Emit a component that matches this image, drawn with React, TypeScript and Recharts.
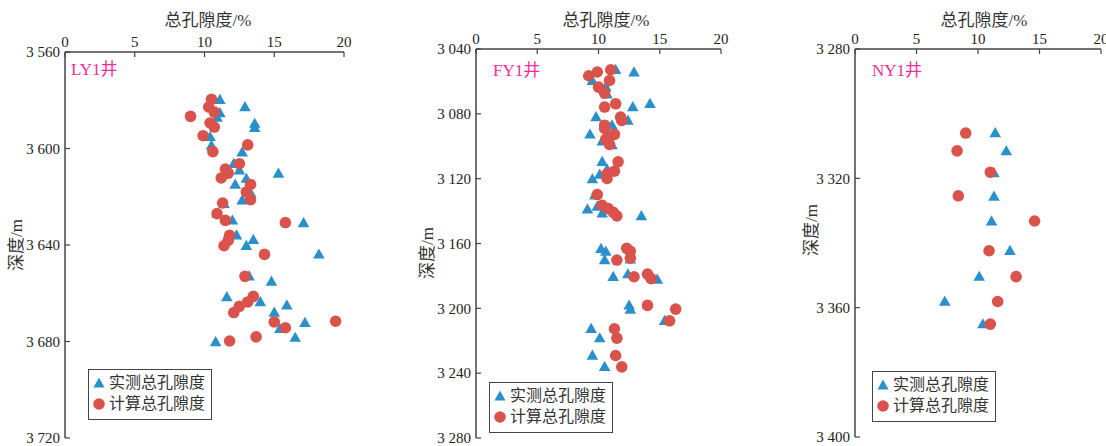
import { ScatterChart, Scatter, XAxis, YAxis } from "recharts";

const FONT = "'Liberation Serif', 'Times New Roman', 'Noto Sans CJK SC', serif";
const BLUE = "#2b8fcb";
const RED = "#d9534c";
const PINK = "#ee2e9b";
const AXIS = "#444";

const X_TICKS = [0, 5, 10, 15, 20];

// LY1 well
const LY_MEAS_POR = [11.1, 12.9, 11.1, 10.9, 13.6, 13.6, 10.4, 10.5, 12.7, 12.1, 12.5, 15.3, 13.0, 12.2, 13.3, 12.7, 11.4, 10.9, 12.0, 17.1, 12.3, 13.5, 13.0, 18.2, 13.2, 14.8, 11.6, 14.0, 15.9, 15.0, 17.2, 15.4, 16.5, 10.8];
const LY_MEAS_DEPTH = [3579.8, 3582.8, 3585.3, 3587.2, 3589.7, 3591.4, 3595.2, 3598.8, 3601.6, 3606.3, 3609, 3610.4, 3612.5, 3614.9, 3618.4, 3621.5, 3622.9, 3627, 3629.8, 3630.9, 3636, 3637.8, 3640.3, 3643.9, 3653, 3655.1, 3661.6, 3663.6, 3665, 3668, 3672.2, 3674.7, 3678.4, 3680.2];
const LY_CALC_POR = [10.5, 10.3, 10.7, 9.0, 10.4, 10.7, 9.9, 13.1, 10.6, 12.5, 11.5, 11.7, 11.2, 13.3, 13.0, 13.3, 11.3, 10.9, 11.5, 15.8, 11.8, 11.7, 11.4, 14.3, 12.9, 13.5, 13.1, 12.5, 12.1, 15.0, 15.8, 19.4, 13.7, 11.8];
const LY_CALC_DEPTH = [3579.6, 3582.8, 3584.9, 3586.7, 3589.4, 3591.1, 3594.7, 3598.5, 3601.3, 3606.3, 3608.5, 3610.2, 3612.2, 3614.9, 3618, 3621.2, 3622.6, 3627, 3629.8, 3630.7, 3636, 3638.1, 3640.3, 3643.9, 3653, 3661.3, 3663.6, 3665.4, 3668, 3671.9, 3674.3, 3671.6, 3678.1, 3679.8];
const LY_Y_TICKS = [3560, 3600, 3640, 3680, 3720];

// FY1 well
const FY_MEAS_POR = [11.4, 12.9, 9.5, 10.6, 10.7, 14.2, 12.8, 9.8, 12.4, 11.1, 9.3, 10.3, 11.1, 10.3, 10.7, 10.1, 9.5, 9.7, 9.9, 9.1, 10.3, 13.5, 10.2, 10.6, 10.5, 12.6, 11.2, 12.4, 14.8, 12.5, 12.6, 15.4, 9.4, 10.1, 9.5, 10.5];
const FY_MEAS_DEPTH = [3052.8, 3054.4, 3059.6, 3063.5, 3068, 3073.8, 3075.8, 3082, 3084.1, 3087, 3092.7, 3096.9, 3099.3, 3109.6, 3114.2, 3117.5, 3120.3, 3130.2, 3137.2, 3138.9, 3141.4, 3143, 3163.2, 3165, 3170.2, 3169.8, 3180.5, 3178.9, 3182.2, 3198.2, 3200.7, 3207.7, 3212.6, 3218.4, 3229.1, 3236.1];
const FY_CALC_POR = [11.0, 9.9, 9.2, 10.9, 10.0, 10.5, 11.4, 10.5, 11.8, 11.9, 10.5, 10.5, 11.3, 10.6, 10.8, 10.9, 11.6, 11.3, 10.7, 10.7, 9.9, 10.3, 10.8, 11.2, 11.5, 12.3, 12.6, 12.6, 11.5, 14.0, 12.9, 14.3, 14.0, 16.3, 15.8, 11.3, 11.5, 11.4, 11.9];
const FY_CALC_DEPTH = [3052.8, 3054.2, 3056.5, 3059.4, 3063.5, 3067.2, 3073.8, 3075.8, 3082, 3084.1, 3087, 3089, 3092.7, 3095.6, 3094.8, 3098.9, 3109.6, 3115.4, 3117, 3119.9, 3129.8, 3136.4, 3138.5, 3140.7, 3143, 3163, 3164.8, 3169, 3170.2, 3178.9, 3180.5, 3181.7, 3198.2, 3200.5, 3207.7, 3212.6, 3218.4, 3229.1, 3236.1];
const FY_Y_TICKS = [3040, 3080, 3120, 3160, 3200, 3240, 3280];

// NY1 well
const NY_MEAS_POR = [11.4, 12.3, 11.3, 11.3, 11.1, 12.6, 10.1, 7.3, 10.4];
const NY_MEAS_DEPTH = [3306, 3311.6, 3318.4, 3325.6, 3333.3, 3342.4, 3350.4, 3358.1, 3365.1];
const NY_CALC_POR = [9.0, 8.3, 11.0, 8.4, 14.6, 10.9, 13.1, 11.6, 11.0];
const NY_CALC_DEPTH = [3306, 3311.5, 3318.1, 3325.4, 3333.2, 3342.4, 3350.4, 3358.1, 3365.1];
const NY_Y_TICKS = [3280, 3320, 3360, 3400];

const zip = (por: number[], depth: number[]) => por.map((p, i) => ({ por: p, depth: depth[i] }));

const fmtDepth = (v: number) => `${Math.floor(v / 1000)} ${String(v % 1000).padStart(3, "0")}`;

const Triangle = (props: { cx?: number; cy?: number }) => {
  const cx = props.cx ?? 0;
  const cy = props.cy ?? 0;
  return <polygon points={`${cx},${cy - 6} ${cx - 5.8},${cy + 4.2} ${cx + 5.8},${cy + 4.2}`} fill={BLUE} />;
};

const Dot = (props: { cx?: number; cy?: number }) => (
  <circle cx={props.cx ?? 0} cy={props.cy ?? 0} r={5.8} fill={RED} />
);

type PanelProps = {
  well: string;
  left: number;
  width: number;
  margin: { top: number; right: number; bottom: number; left: number };
  yTicks: number[];
  measured: { por: number; depth: number }[];
  calculated: { por: number; depth: number }[];
  titleX: number;
  yLabel: { x: number; y: number };
  wellPos: { x: number; y: number };
  legendPos: { x: number; y: number };
};

function LegendBox({ x, y }: { x: number; y: number }) {
  return (
    <div
      style={{
        position: "absolute",
        left: x,
        top: y,
        width: 122,
        height: 49,
        border: `1.5px solid ${AXIS}`,
        background: "#fff",
        fontFamily: FONT,
        fontSize: 16,
        color: "#333",
      }}
    >
      <div style={{ position: "absolute", left: 3, top: 4, display: "flex", alignItems: "center" }}>
        <svg width="14" height="14">
          <polygon points="7,1.5 1.5,11.5 12.5,11.5" fill={BLUE} />
        </svg>
        <span style={{ marginLeft: 3, lineHeight: "18px" }}>实测总孔隙度</span>
      </div>
      <div style={{ position: "absolute", left: 3, top: 25, display: "flex", alignItems: "center" }}>
        <svg width="14" height="14">
          <circle cx="7" cy="7" r="5.8" fill={RED} />
        </svg>
        <span style={{ marginLeft: 3, lineHeight: "18px" }}>计算总孔隙度</span>
      </div>
    </div>
  );
}

function Panel(p: PanelProps) {
  const yMin = p.yTicks[0];
  const yMax = p.yTicks[p.yTicks.length - 1];
  return (
    <>
      <div style={{ position: "absolute", left: p.left, top: 0 }}>
        <ScatterChart width={p.width} height={446} margin={p.margin}>
          <XAxis
            type="number"
            dataKey="por"
            orientation="top"
            xAxisId={0}
            domain={[0, 20]}
            ticks={X_TICKS}
            interval={0}
            height={30}
            tickSize={-5}
            tickMargin={10}
            axisLine={{ stroke: AXIS, strokeWidth: 1.5 }}
            tickLine={{ stroke: AXIS, strokeWidth: 1.2 }}
            tick={{ fill: "#222", fontSize: 15, fontFamily: FONT }}
          />
          <YAxis
            type="number"
            dataKey="depth"
            yAxisId={0}
            domain={[yMin, yMax]}
            ticks={p.yTicks}
            interval={0}
            reversed
            width={60}
            tickSize={-5}
            tickMargin={10}
            tickFormatter={fmtDepth}
            axisLine={{ stroke: AXIS, strokeWidth: 1.5 }}
            tickLine={{ stroke: AXIS, strokeWidth: 1.2 }}
            tick={{ fill: "#222", fontSize: 15, fontFamily: FONT }}
          />
          <Scatter data={p.measured} shape={Triangle} isAnimationActive={false} />
          <Scatter data={p.calculated} shape={Dot} isAnimationActive={false} />
        </ScatterChart>
      </div>
      <div
        style={{
          position: "absolute",
          left: p.titleX - 60,
          width: 120,
          top: 10,
          textAlign: "center",
          fontFamily: FONT,
          fontSize: 17,
          color: "#333",
          lineHeight: "22px",
        }}
      >
        总孔隙度/%
      </div>
      <div
        style={{
          position: "absolute",
          left: p.yLabel.x - 40,
          top: p.yLabel.y - 11,
          width: 80,
          textAlign: "center",
          transform: "rotate(-90deg)",
          fontFamily: FONT,
          fontSize: 17,
          color: "#333",
          lineHeight: "22px",
        }}
      >
        深度/m
      </div>
      <div
        style={{
          position: "absolute",
          left: p.wellPos.x,
          top: p.wellPos.y,
          fontFamily: FONT,
          fontSize: 17,
          color: PINK,
          lineHeight: "20px",
        }}
      >
        {p.well}
      </div>
      <LegendBox x={p.legendPos.x} y={p.legendPos.y} />
    </>
  );
}

export default function App() {
  return (
    <div style={{ position: "absolute", left: 0, top: 0, width: 1106, height: 446, background: "#fff" }}>
      <Panel
        well="LY1井"
        left={0}
        width={370}
        margin={{ top: 22, right: 26, bottom: 8, left: 5 }}
        yTicks={LY_Y_TICKS}
        measured={zip(LY_MEAS_POR, LY_MEAS_DEPTH)}
        calculated={zip(LY_CALC_POR, LY_CALC_DEPTH)}
        titleX={208}
        yLabel={{ x: 17, y: 245 }}
        wellPos={{ x: 71, y: 60 }}
        legendPos={{ x: 88, y: 369 }}
      />
      <Panel
        well="FY1井"
        left={410}
        width={330}
        margin={{ top: 19, right: 19, bottom: 8, left: 6 }}
        yTicks={FY_Y_TICKS}
        measured={zip(FY_MEAS_POR, FY_MEAS_DEPTH)}
        calculated={zip(FY_CALC_POR, FY_CALC_DEPTH)}
        titleX={606}
        yLabel={{ x: 428, y: 253 }}
        wellPos={{ x: 493, y: 61 }}
        legendPos={{ x: 489, y: 382 }}
      />
      <Panel
        well="NY1井"
        left={790}
        width={316}
        margin={{ top: 19, right: 5, bottom: 9, left: 5 }}
        yTicks={NY_Y_TICKS}
        measured={zip(NY_MEAS_POR, NY_MEAS_DEPTH)}
        calculated={zip(NY_CALC_POR, NY_CALC_DEPTH)}
        titleX={984}
        yLabel={{ x: 812, y: 230 }}
        wellPos={{ x: 872, y: 61 }}
        legendPos={{ x: 872, y: 371 }}
      />
    </div>
  );
}
